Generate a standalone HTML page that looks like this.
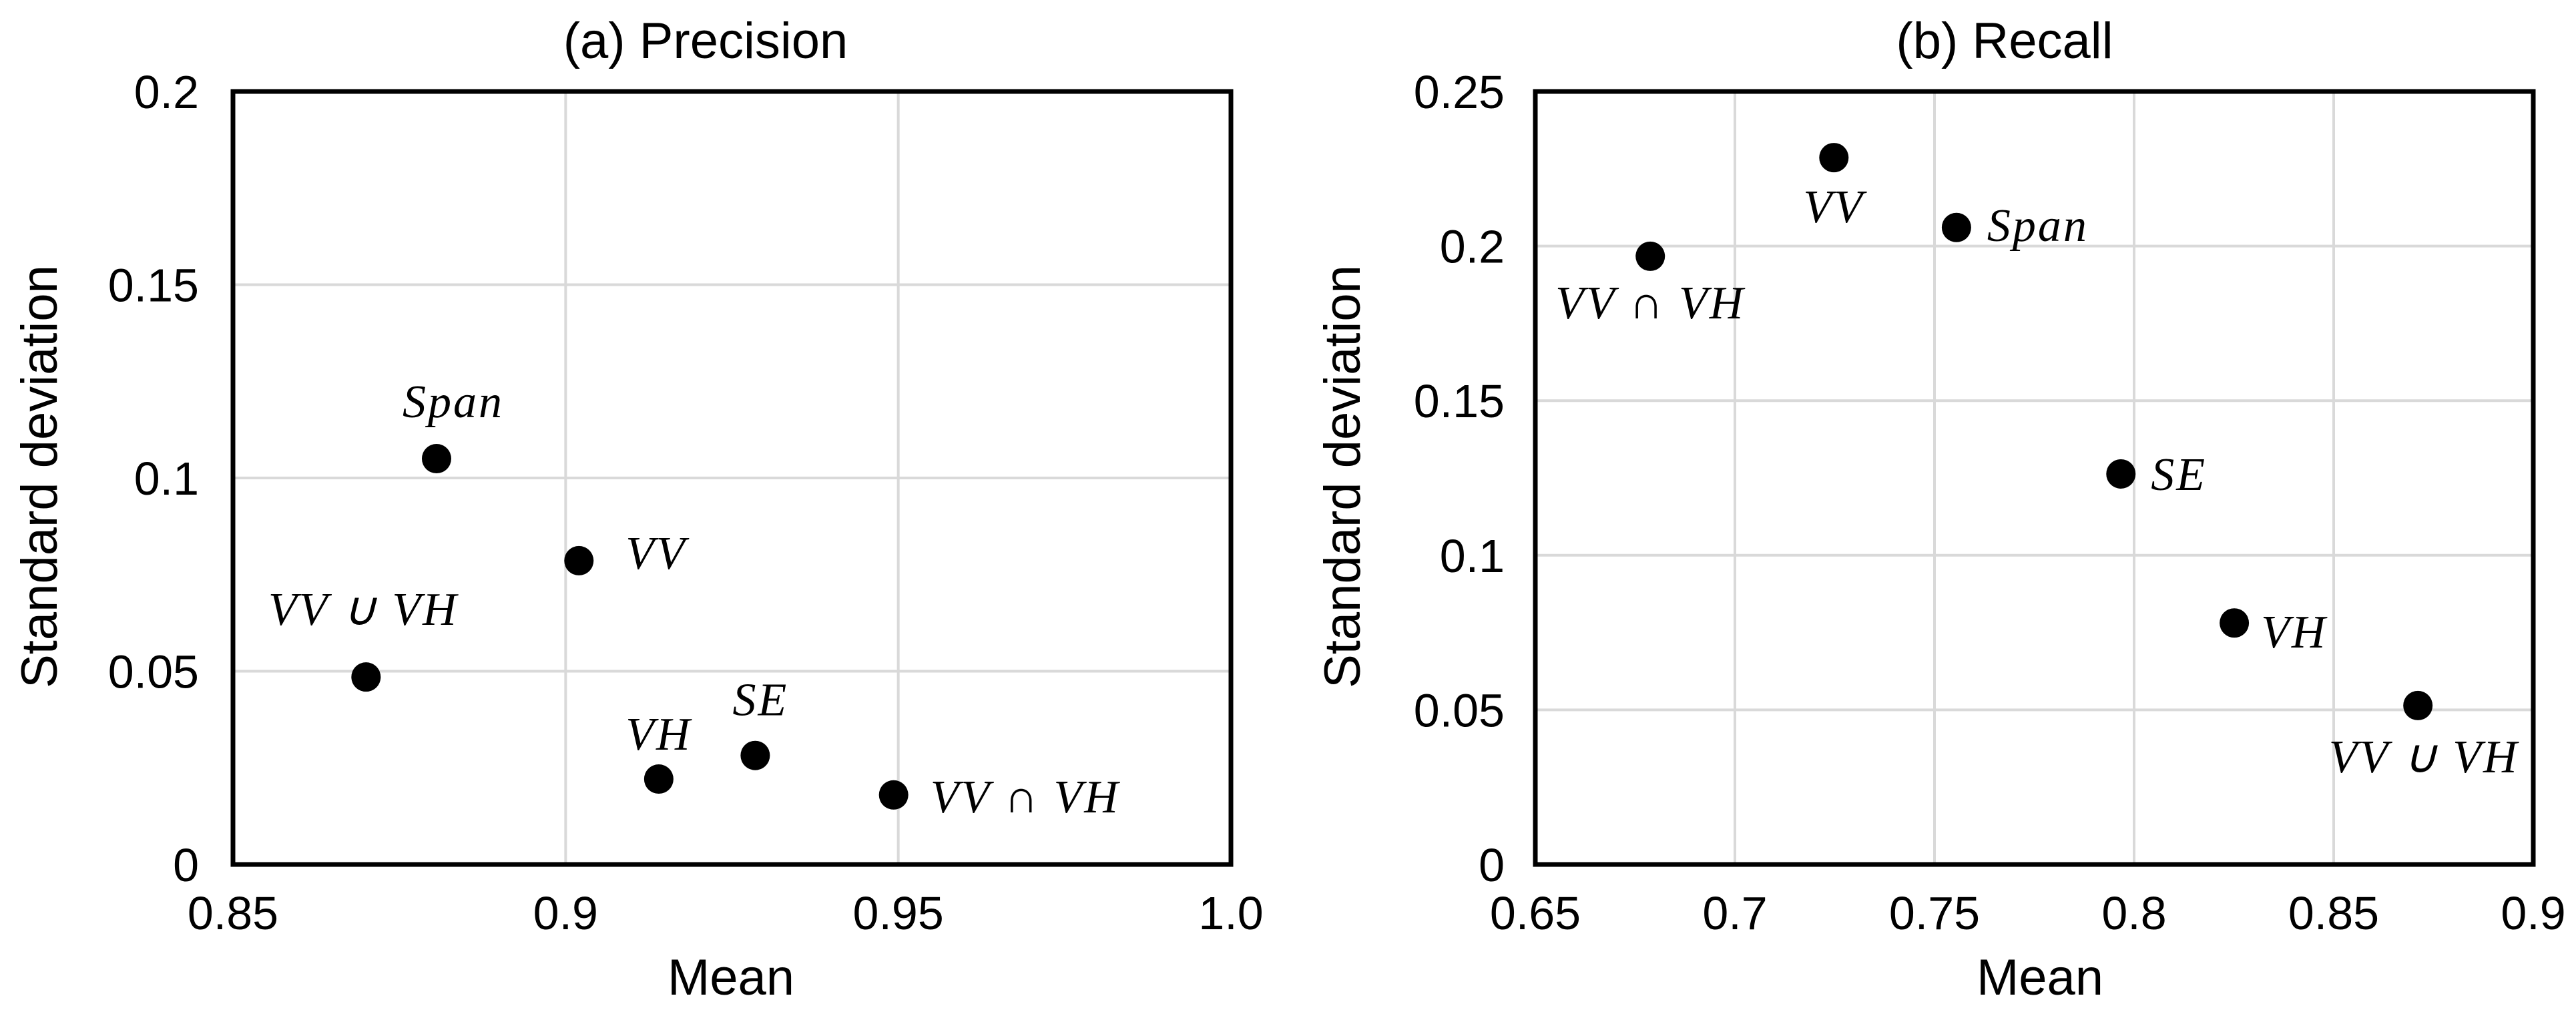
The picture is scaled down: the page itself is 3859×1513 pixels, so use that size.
<!DOCTYPE html>
<html><head><meta charset="utf-8"><style>
html,body{margin:0;padding:0;background:#fff}
svg{display:block}
.tk{font-family:"Liberation Sans",sans-serif;font-size:70px;fill:#000}
.ax{font-family:"Liberation Sans",sans-serif;font-size:76px;fill:#000}
.lb{font-family:"Liberation Serif",serif;font-style:italic;font-size:70px;letter-spacing:3px;fill:#000}
</style></head><body>
<svg id="chart" width="3859" height="1513" viewBox="0 0 3859 1513" xmlns="http://www.w3.org/2000/svg"></svg>
<script>
const precisionLabels = ["Span","VV","VV ∪ VH","VH","SE","VV ∩ VH"];
const precisionMean = [0.8806,0.902,0.870,0.914,0.9285,0.9493];
const precisionStd = [0.105,0.0786,0.0485,0.0221,0.0282,0.018];
const recallLabels = ["VV ∩ VH","VV","Span","SE","VH","VV ∪ VH"];
const recallMean = [0.6788,0.7248,0.7555,0.7967,0.8251,0.8711];
const recallStd = [0.1967,0.2286,0.206,0.1263,0.0781,0.0514];
const precisionXTicks = ["0.85","0.9","0.95","1.0"];
const precisionYTicks = ["0","0.05","0.1","0.15","0.2"];
const recallXTicks = ["0.65","0.7","0.75","0.8","0.85","0.9"];
const recallYTicks = ["0","0.05","0.1","0.15","0.2","0.25"];

const NS="http://www.w3.org/2000/svg";
const svg=document.getElementById('chart');
function mk(tag,attrs,parent){const e=document.createElementNS(NS,tag);for(const k in attrs)e.setAttribute(k,attrs[k]);(parent||svg).appendChild(e);return e;}

// label offsets (layout): [dx, dy, anchor]
const precOff=[[25,-62,'middle'],[70,12,'start'],[-4,-78,'middle'],[0,-44,'middle'],[8,-60,'middle'],[55,26,'start']];
const recOff=[[0,93,'middle'],[0,97,'start_mid'],[46,20,'start'],[45,24,'start'],[40,37,'start'],[9,100,'middle']];

function panel(cfg){
  const g=mk('g',{});
  
  
  const L=cfg.left,R=cfg.left+1495,T=137,B=1295;
  const xs=v=>L+(v-cfg.xmin)/(cfg.xmax-cfg.xmin)*(R-L);
  const ys=v=>B-(v-cfg.ymin)/(cfg.ymax-cfg.ymin)*(B-T);
  cfg.xt.forEach(t=>{
    const v=parseFloat(t),x=xs(v);
    if(x>L+5&&x<R-5){const l=mk('line',{x1:x,x2:x,y1:T,y2:B,stroke:'#d9d9d9','stroke-width':4},g);
      }
    const tx=mk('text',{x:x,y:1392,'text-anchor':'middle',class:'tk'},g);tx.textContent=t;
    
  });
  cfg.yt.forEach(t=>{
    const v=parseFloat(t),y=ys(v);
    if(y>T+5&&y<B-5){const l=mk('line',{x1:L,x2:R,y1:y,y2:y,stroke:'#d9d9d9','stroke-width':4},g);
      }
    const ty=mk('text',{x:cfg.ylabR,y:y+25,'text-anchor':'end',class:'tk'},g);ty.textContent=t;
    
  });
  const fr=mk('rect',{x:L,y:T,width:R-L,height:B-T,fill:'none',stroke:'#000','stroke-width':7},g);
  
  cfg.mean.forEach((m,i)=>{
    const cx=xs(m),cy=ys(cfg.std[i]);
    const c=mk('circle',{cx:cx,cy:cy,r:22,fill:'#000'},g);
    
    
    const o=cfg.off[i];
    const anchor=o[2]==='start_mid'?'middle':o[2];
    const t=mk('text',{x:cx+o[0],y:cy+o[1],'text-anchor':anchor,class:'lb'},g);
    t.textContent=cfg.labels[i];
    
  });
  const ti=mk('text',{x:cfg.titleX,y:87,'text-anchor':'middle',class:'ax'},g);ti.textContent=cfg.title;
  
  const xt=mk('text',{x:cfg.xtitleX,y:1490,'text-anchor':'middle',class:'ax'},g);xt.textContent='Mean';
  
  const yt=mk('text',{x:0,y:0,'text-anchor':'middle',class:'ax',transform:`translate(${cfg.ytitleX},714) rotate(-90)`},g);yt.textContent='Standard deviation';
  
}
panel({name:'precision-panel',left:349,xmin:0.85,xmax:1.0,ymin:0,ymax:0.2,xt:precisionXTicks,yt:precisionYTicks,
  mean:precisionMean,std:precisionStd,labels:precisionLabels,off:precOff,ylabR:298,titleX:1057,xtitleX:1095,ytitleX:85,title:'(a) Precision'});
panel({name:'recall-panel',left:2300,xmin:0.65,xmax:0.9,ymin:0,ymax:0.25,xt:recallXTicks,yt:recallYTicks,
  mean:recallMean,std:recallStd,labels:recallLabels,off:recOff,ylabR:2254,titleX:3003,xtitleX:3056,ytitleX:2037,title:'(b) Recall'});
</script>
</body></html>
